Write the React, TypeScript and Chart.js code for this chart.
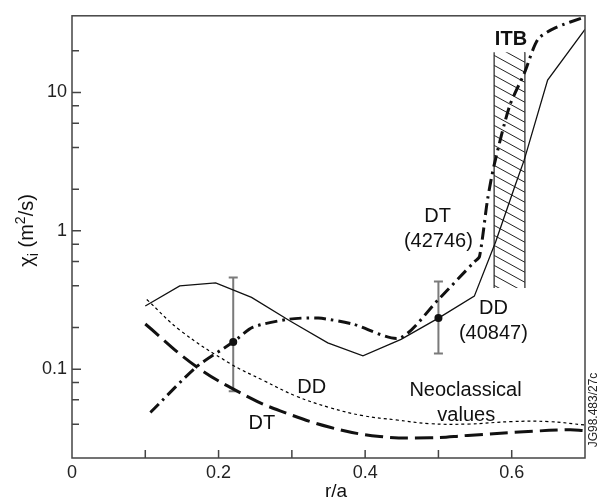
import React, { useEffect, useRef } from "react";
import { Chart, registerables } from "chart.js";

Chart.register(...registerables);

// ---------- data ----------
// DD (40847) transport, solid line
const DD_X = [0.1, 0.147, 0.196, 0.245, 0.297, 0.349, 0.397, 0.449, 0.5, 0.549, 0.578, 0.605, 0.617, 0.649, 0.7];
const DD_Y = [0.286, 0.4, 0.42, 0.33, 0.224, 0.155, 0.125, 0.164, 0.234, 0.337, 0.83, 2.15, 3.24, 12.3, 28.6];

// DT (42746) transport, dash-dot line
const DT_X = [0.107, 0.17, 0.22, 0.247, 0.297, 0.336, 0.383, 0.447, 0.5, 0.549, 0.556, 0.567, 0.576, 0.597, 0.617, 0.636, 0.66, 0.7];
const DT_Y = [0.0486, 0.104, 0.157, 0.201, 0.23, 0.234, 0.212, 0.168, 0.319, 0.597, 0.65, 1.68, 2.98, 7.95, 13.7, 24.3, 29.4, 35.1];

// Neoclassical DT, long dashes
const NEO_DT_X = [0.1, 0.17, 0.243, 0.284, 0.352, 0.42, 0.488, 0.54, 0.61, 0.678, 0.7];
const NEO_DT_Y = [0.212, 0.104, 0.062, 0.05, 0.038, 0.0326, 0.0319, 0.0332, 0.0351, 0.0365, 0.036];

// Neoclassical DD, dotted
const NEO_DD_X = [0.102, 0.148, 0.2155, 0.261, 0.306, 0.352, 0.397, 0.442, 0.488, 0.54, 0.6, 0.65, 0.7];
const NEO_DD_Y = [0.319, 0.19, 0.11, 0.083, 0.0638, 0.0527, 0.0461, 0.043, 0.0404, 0.0401, 0.0418, 0.0418, 0.0395];

// measured points with error bars
const ERR_X = [0.22, 0.5];
const ERR_Y = [0.157, 0.234];
const ERR_LO = [0.0693, 0.13];
const ERR_HI = [0.46, 0.43];

// ITB region
const ITB_X = [0.576, 0.618];
const ITB_Y = [0.386, 19.5];

// axes
const X_MIN = 0;
const X_MAX = 0.7;
const Y_MIN = 0.0228;
const Y_MAX = 35.8;
const X_TICKS = [0, 0.1, 0.2, 0.3, 0.4, 0.5, 0.6, 0.7];
const X_TICK_LABELS = ["0", "", "0.2", "", "0.4", "", "0.6", ""];
const Y_TICKS = [0.04, 0.06, 0.08, 0.1, 0.2, 0.4, 0.6, 0.8, 1, 2, 4, 6, 8, 10, 20];
const Y_MAJOR = [0.1, 1, 10];
const Y_MAJOR_LABELS = ["0.1", "1", "10"];

// text annotations: [text, x value, y value, bold]
const LABELS: [string, number, number, boolean][] = [
  ["ITB", 0.599, 24.6, true],
  ["DT", 0.499, 1.29, false],
  ["(42746)", 0.5, 0.851, false],
  ["DD", 0.575, 0.283, false],
  ["(40847)", 0.575, 0.187, false],
  ["DD", 0.327, 0.0752, false],
  ["DT", 0.259, 0.0413, false],
  ["Neoclassical", 0.537, 0.0716, false],
  ["values", 0.538, 0.0473, false],
];
const X_TITLE = "r/a";
const CODE_TEXT = "JG98.483/27c";

const FONT = '"Liberation Sans", Arial, Helvetica, sans-serif';
const INK = "#111";

const pts = (xs: number[], ys: number[]) => xs.map((x, i) => ({ x, y: ys[i] }));

const overlayPlugin = {
  id: "overlay",
  beforeDatasetsDraw(chart: any) {
    const { ctx, scales } = chart;
    const xs = scales.x;
    const ys = scales.y;
    // hatched ITB region
    const l = xs.getPixelForValue(ITB_X[0]);
    const r = xs.getPixelForValue(ITB_X[1]);
    const t = ys.getPixelForValue(ITB_Y[1]);
    const b = ys.getPixelForValue(ITB_Y[0]);
    ctx.save();
    ctx.beginPath();
    ctx.rect(l, t, r - l, b - t);
    ctx.clip();
    ctx.strokeStyle = "#222";
    ctx.lineWidth = 1;
    const slope = 0.55;
    const gap = 10;
    ctx.beginPath();
    for (let y0 = t - (r - l) * slope; y0 < b + gap; y0 += gap) {
      ctx.moveTo(l, y0);
      ctx.lineTo(r, y0 + (r - l) * slope);
    }
    ctx.stroke();
    ctx.restore();
    ctx.save();
    ctx.strokeStyle = "#222";
    ctx.lineWidth = 1.2;
    ctx.beginPath();
    ctx.moveTo(l, t);
    ctx.lineTo(l, b);
    ctx.moveTo(r, t);
    ctx.lineTo(r, b);
    ctx.stroke();
    ctx.restore();

    // error bars
    ctx.save();
    ctx.strokeStyle = "#7a7a7a";
    ctx.lineWidth = 2;
    ERR_X.forEach((xv, i) => {
      const px = xs.getPixelForValue(xv);
      const pl = ys.getPixelForValue(ERR_LO[i]);
      const ph = ys.getPixelForValue(ERR_HI[i]);
      ctx.beginPath();
      ctx.moveTo(px, pl);
      ctx.lineTo(px, ph);
      ctx.moveTo(px - 4.5, pl);
      ctx.lineTo(px + 4.5, pl);
      ctx.moveTo(px - 4.5, ph);
      ctx.lineTo(px + 4.5, ph);
      ctx.stroke();
    });
    ctx.restore();
  },
  afterDatasetsDraw(chart: any) {
    const { ctx, scales, chartArea } = chart;
    const xs = scales.x;
    const ys = scales.y;
    const { left, right, top, bottom } = chartArea;
    ctx.save();
    // frame
    ctx.strokeStyle = "#444";
    ctx.lineWidth = 1.5;
    ctx.strokeRect(left, top, right - left, bottom - top);
    // inward tick marks
    ctx.beginPath();
    Y_TICKS.forEach((v) => {
      const py = ys.getPixelForValue(v);
      const len = Y_MAJOR.includes(v) ? 9 : 7;
      ctx.moveTo(left, py);
      ctx.lineTo(left + len, py);
    });
    X_TICKS.forEach((v, i) => {
      if (i === 0 || i === X_TICKS.length - 1) return;
      const px = xs.getPixelForValue(v);
      ctx.moveTo(px, bottom);
      ctx.lineTo(px, bottom - 8);
    });
    ctx.stroke();

    // annotations
    ctx.fillStyle = INK;
    ctx.textAlign = "center";
    ctx.textBaseline = "alphabetic";
    LABELS.forEach(([txt, xv, yv, bold]) => {
      const size = 20;
      ctx.font = `${bold ? "bold " : ""}${size}px ${FONT}`;
      ctx.fillText(txt, xs.getPixelForValue(xv), ys.getPixelForValue(yv) + 0.35 * size);
    });

    // x title
    ctx.font = `19px ${FONT}`;
    ctx.fillText(X_TITLE, 336, 497);

    // y title: chi_i (m^2/s)
    const parts: [string, number, number][] = [
      ["χ", 20, 0],
      ["i", 15, 5],
      [" (m", 20, 0],
      ["2", 14, -8],
      ["/s)", 20, 0],
    ];
    let w = 0;
    parts.forEach(([t, s]) => {
      ctx.font = `${s}px ${FONT}`;
      w += ctx.measureText(t).width;
    });
    ctx.save();
    ctx.translate(33, 230.5);
    ctx.rotate(-Math.PI / 2);
    ctx.textAlign = "left";
    let cx = -w / 2;
    parts.forEach(([t, s, dy]) => {
      ctx.font = `${s}px ${FONT}`;
      ctx.fillText(t, cx, dy);
      cx += ctx.measureText(t).width;
    });
    ctx.restore();

    // figure code
    ctx.save();
    ctx.translate(597, 410);
    ctx.rotate(-Math.PI / 2);
    ctx.textAlign = "center";
    ctx.font = `12px ${FONT}`;
    ctx.fillStyle = "#222";
    ctx.fillText(CODE_TEXT, 0, 0);
    ctx.restore();

    ctx.restore();
  },
};

export default function App() {
  const ref = useRef<HTMLCanvasElement | null>(null);
  useEffect(() => {
    if (!ref.current) return;
    const chart = new Chart(ref.current, {
      type: "line",
      data: {
        datasets: [
          {
            label: "DD (40847)",
            data: pts(DD_X, DD_Y),
            borderColor: INK,
            borderWidth: 1.3,
            pointRadius: 0,
            tension: 0,
            fill: false,
          },
          {
            label: "DT (42746)",
            data: pts(DT_X, DT_Y),
            borderColor: INK,
            borderWidth: 3,
            borderDash: [12, 5, 2.5, 5],
            pointRadius: 0,
            tension: 0.25,
            fill: false,
          },
          {
            label: "Neoclassical DT",
            data: pts(NEO_DT_X, NEO_DT_Y),
            borderColor: INK,
            borderWidth: 3,
            borderDash: [18, 7],
            pointRadius: 0,
            tension: 0.4,
            fill: false,
          },
          {
            label: "Neoclassical DD",
            data: pts(NEO_DD_X, NEO_DD_Y),
            borderColor: "#000",
            borderWidth: 1.2,
            borderDash: [3, 3],
            pointRadius: 0,
            tension: 0.4,
            fill: false,
          },
          {
            label: "Measured",
            data: pts(ERR_X, ERR_Y),
            showLine: false,
            borderColor: INK,
            backgroundColor: INK,
            pointRadius: 4,
            pointBorderWidth: 0,
          },
        ],
      },
      options: {
        responsive: false,
        animation: false,
        devicePixelRatio: 1,
        layout: { padding: { left: 0, right: 20, top: 8, bottom: 0 } },
        plugins: { legend: { display: false }, tooltip: { enabled: false }, title: { display: false } },
        scales: {
          x: {
            type: "linear",
            min: X_MIN,
            max: X_MAX,
            afterBuildTicks: (s: any) => {
              s.ticks = X_TICKS.map((v) => ({ value: v }));
            },
            afterFit: (s: any) => {
              s.height = 44;
            },
            grid: { display: false, drawTicks: false },
            border: { display: false },
            ticks: {
              autoSkip: false,
              maxRotation: 0,
              padding: 4,
              color: "#222",
              font: { family: FONT, size: 18 },
              callback: (_v: any, i: number) => X_TICK_LABELS[i],
            },
          },
          y: {
            type: "logarithmic",
            min: Y_MIN,
            max: Y_MAX,
            afterBuildTicks: (s: any) => {
              s.ticks = Y_TICKS.map((v) => ({ value: v }));
            },
            afterFit: (s: any) => {
              s.width = 72;
            },
            grid: { display: false, drawTicks: false },
            border: { display: false },
            ticks: {
              autoSkip: false,
              padding: 5,
              color: "#222",
              font: { family: FONT, size: 18 },
              callback: (v: any) => {
                const k = Y_MAJOR.indexOf(Number(v));
                return k >= 0 ? Y_MAJOR_LABELS[k] : "";
              },
            },
          },
        },
      },
      plugins: [overlayPlugin],
    } as any);
    return () => chart.destroy();
  }, []);
  return (
    <div style={{ position: "fixed", left: 0, top: 0, width: 605, height: 502, background: "#fff" }}>
      <canvas ref={ref} width={605} height={502} style={{ display: "block" }} />
    </div>
  );
}
